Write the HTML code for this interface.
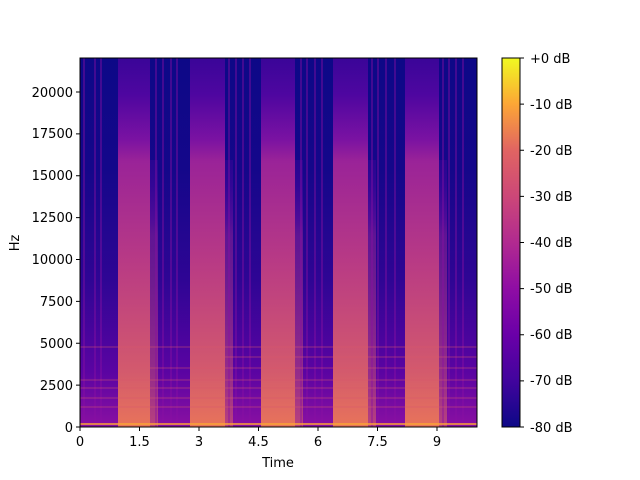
<!DOCTYPE html>
<html><head><style>body{margin:0;background:#fff}svg{display:block}text{font-family:"DejaVu Sans","Liberation Sans",sans-serif;font-size:13px;fill:#000}</style></head>
<body>
<svg width="640" height="480" xmlns="http://www.w3.org/2000/svg">
<defs>
<linearGradient id="band" x1="0" y1="1" x2="0" y2="0">
<stop offset="0" stop-color="#e8745a"/><stop offset="0.15" stop-color="#d35a6d"/><stop offset="0.45" stop-color="#b83a85"/><stop offset="0.72" stop-color="#9a2398"/><stop offset="0.78" stop-color="#7a12a2"/><stop offset="0.9" stop-color="#4e06a0"/><stop offset="1" stop-color="#3a0598"/></linearGradient>
<linearGradient id="decay" x1="0" y1="1" x2="0" y2="0">
<stop offset="0" stop-color="#8a10a2"/><stop offset="0.15" stop-color="#5a04a2"/><stop offset="0.4" stop-color="#2e0594"/><stop offset="0.7" stop-color="#14078a"/><stop offset="1" stop-color="#0d0887"/></linearGradient>
<linearGradient id="cb" x1="0" y1="1" x2="0" y2="0">
<stop offset="0" stop-color="#0d0887"/><stop offset="0.125" stop-color="#41049d"/><stop offset="0.25" stop-color="#6a00a8"/><stop offset="0.375" stop-color="#8f0da4"/><stop offset="0.5" stop-color="#b12a90"/><stop offset="0.625" stop-color="#cc4778"/><stop offset="0.75" stop-color="#e16462"/><stop offset="0.875" stop-color="#fca636"/><stop offset="1" stop-color="#f0f921"/></linearGradient>
</defs>
<rect x="80" y="58" width="397" height="369" fill="#0d0887"/>
<rect x="80" y="58" width="38" height="369" fill="url(#decay)"/>
<g>
<rect x="118" y="58" width="32" height="369" fill="url(#band)"/>
<rect x="150" y="58" width="40" height="369" fill="url(#decay)"/>
<rect x="150" y="160" width="8" height="267" fill="url(#band)" opacity="0.5"/>
<rect x="190" y="58" width="35" height="369" fill="url(#band)"/>
<rect x="225" y="58" width="36" height="369" fill="url(#decay)"/>
<rect x="225" y="160" width="8" height="267" fill="url(#band)" opacity="0.5"/>
<rect x="261" y="58" width="34" height="369" fill="url(#band)"/>
<rect x="295" y="58" width="38" height="369" fill="url(#decay)"/>
<rect x="295" y="160" width="8" height="267" fill="url(#band)" opacity="0.5"/>
<rect x="333" y="58" width="35" height="369" fill="url(#band)"/>
<rect x="368" y="58" width="37" height="369" fill="url(#decay)"/>
<rect x="368" y="160" width="8" height="267" fill="url(#band)" opacity="0.5"/>
<rect x="405" y="58" width="34" height="369" fill="url(#band)"/>
<rect x="439" y="58" width="38" height="369" fill="url(#decay)"/>
<rect x="439" y="160" width="8" height="267" fill="url(#band)" opacity="0.5"/>
</g>
<g stroke="#8a10a2" stroke-width="1.2" opacity="0.7">
<path d="M84 58V427M95 58V427M101 58V427M156 58V427M163 58V427M171 58V427M177 58V427M229 58V427M236 58V427M243 58V427M250 58V427M301 58V427M307 58V427M315 58V427M322 58V427M372 58V427M378 58V427M386 58V427M395 58V427M443 58V427M449 58V427M456 58V427M463 58V427"/>
</g>
<g stroke="#d8576b" stroke-width="1" opacity="0.5">
<path d="M80 407H477M80 398H477M80 388H477M80 380H477M150 368H477M225 357H477M80 347H477"/>
</g>
<path d="M80 424H477" stroke="#fca636" stroke-width="1.5"/>
<rect x="80" y="58" width="397" height="369" fill="none" stroke="#000" stroke-width="1"/>
<g stroke="#000"><path d="M80 427v4M139.5 427v4M199 427v4M258.5 427v4M318 427v4M377.5 427v4M437 427v4"/>
<path d="M80 427h-4M80 385.1h-4M80 343.3h-4M80 301.4h-4M80 259.5h-4M80 217.6h-4M80 175.8h-4M80 133.9h-4M80 92h-4"/></g>
<g text-anchor="middle">
<text x="80" y="446">0</text><text x="139.5" y="446">1.5</text><text x="199" y="446">3</text><text x="258.5" y="446">4.5</text><text x="318" y="446">6</text><text x="377.5" y="446">7.5</text><text x="437" y="446">9</text>
<text x="278" y="467">Time</text></g>
<g text-anchor="end">
<text x="73" y="432">0</text><text x="73" y="390">2500</text><text x="73" y="348">5000</text><text x="73" y="306">7500</text><text x="73" y="264">10000</text><text x="73" y="222">12500</text><text x="73" y="180">15000</text><text x="73" y="138">17500</text><text x="73" y="97">20000</text></g>
<text transform="translate(19,243) rotate(-90)" text-anchor="middle">Hz</text>
<rect x="502" y="58" width="18" height="369" fill="url(#cb)" stroke="#000" stroke-width="1"/>
<g stroke="#000"><path d="M520 58h4M520 104.1h4M520 150.3h4M520 196.4h4M520 242.5h4M520 288.6h4M520 334.8h4M520 380.9h4M520 427h4"/></g>
<g><text x="530" y="63">+0 dB</text><text x="530" y="109">-10 dB</text><text x="530" y="155">-20 dB</text><text x="530" y="201">-30 dB</text><text x="530" y="247">-40 dB</text><text x="530" y="293">-50 dB</text><text x="530" y="339">-60 dB</text><text x="530" y="385">-70 dB</text><text x="530" y="432">-80 dB</text></g>
</svg>
</body></html>
